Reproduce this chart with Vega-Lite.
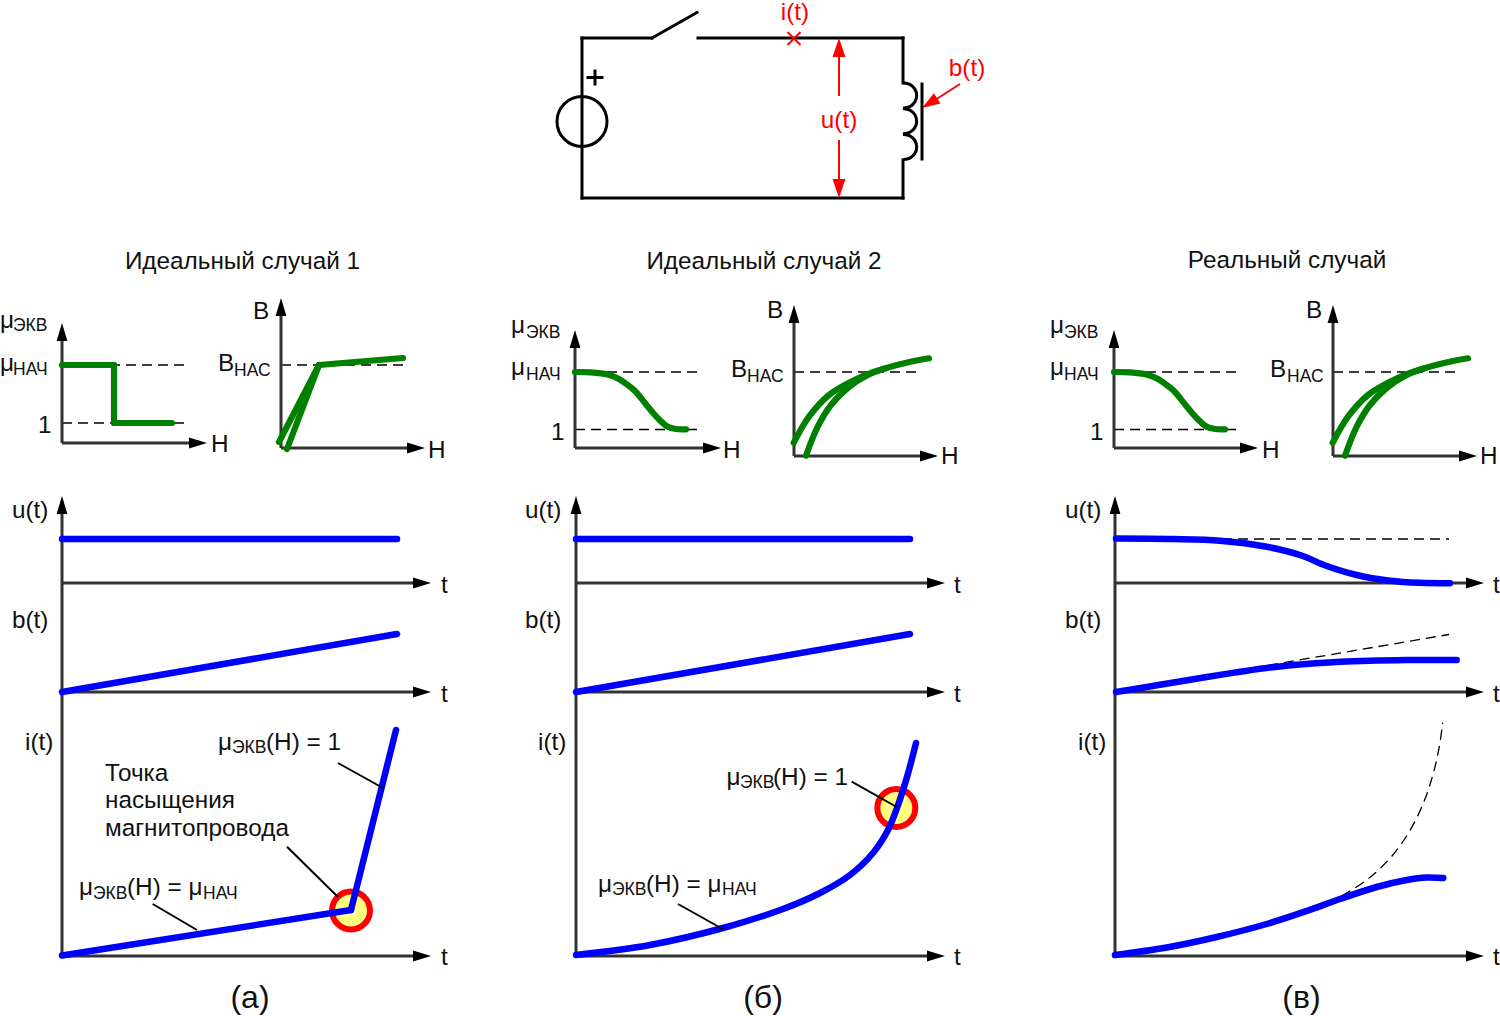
{
"$schema":"https://vega.github.io/schema/vega-lite/v6.json",
"width":1500,"height":1016,"padding":0,
"autosize":{"type":"none"},
"background":"white",
"config":{"view":{"stroke":null},"text":{"font":"Liberation Sans"}},
"datasets":{
"wires":[
{"x":582,"y":38,"x2":652,"y2":38},{"x":652,"y":38,"x2":697,"y2":12.5},{"x":698,"y":38,"x2":903,"y2":38},{"x":903,"y":38,"x2":903,"y2":83},{"x":903,"y":160,"x2":903,"y2":198},{"x":582,"y":198,"x2":903,"y2":198},{"x":582,"y":38,"x2":582,"y2":198},{"x":922,"y":84,"x2":922,"y2":159},{"x":588,"y":77.5,"x2":602,"y2":77.5},{"x":595,"y":71,"x2":595,"y2":84}],
"coil":[
{"s":"1","x":903,"y":82.7},{"s":"1","x":909.9,"y":84.4},{"s":"1","x":914.9,"y":89.1},{"s":"1","x":916.7,"y":95.5},{"s":"1","x":914.9,"y":101.9},{"s":"1","x":909.9,"y":106.6},{"s":"1","x":903,"y":108.3},
{"s":"2","x":903,"y":108.4},{"s":"2","x":909.9,"y":110.1},{"s":"2","x":914.9,"y":114.8},{"s":"2","x":916.7,"y":121.2},{"s":"2","x":914.9,"y":127.6},{"s":"2","x":909.9,"y":132.3},{"s":"2","x":903,"y":134},
{"s":"3","x":903,"y":134.2},{"s":"3","x":909.9,"y":135.9},{"s":"3","x":914.9,"y":140.6},{"s":"3","x":916.7,"y":147},{"s":"3","x":914.9,"y":153.4},{"s":"3","x":909.9,"y":158.1},{"s":"3","x":903,"y":159.8}],
"source":[{"x":582,"y":121.5}],
"redLines":[{"x":787.5,"y":32,"x2":800.5,"y2":45},{"x":800.5,"y":32,"x2":787.5,"y2":45},{"x":839,"y":50,"x2":839,"y2":96},{"x":839,"y":140,"x2":839,"y2":186},{"x":960,"y":84,"x2":935,"y2":100}],
"axes":[
{"x":62,"y":340,"x2":62,"y2":443},{"x":62,"y":443,"x2":192,"y2":443},{"x":281,"y":314,"x2":281,"y2":448},{"x":281,"y":448,"x2":410,"y2":448},
{"x":575,"y":346,"x2":575,"y2":448},{"x":575,"y":448,"x2":704,"y2":448},{"x":794,"y":321,"x2":794,"y2":456},{"x":794,"y":456,"x2":923,"y2":456},
{"x":1114,"y":346,"x2":1114,"y2":448},{"x":1114,"y":448,"x2":1243,"y2":448},{"x":1333,"y":321,"x2":1333,"y2":456},{"x":1333,"y":456,"x2":1462,"y2":456},
{"x":62,"y":512,"x2":62,"y2":956},{"x":62,"y":583,"x2":416,"y2":583},{"x":62,"y":692,"x2":416,"y2":692},{"x":62,"y":956,"x2":416,"y2":956},
{"x":576,"y":512,"x2":576,"y2":956},{"x":576,"y":583,"x2":930,"y2":583},{"x":576,"y":692,"x2":930,"y2":692},{"x":576,"y":956,"x2":930,"y2":956},
{"x":1115,"y":512,"x2":1115,"y2":956},{"x":1115,"y":583,"x2":1469,"y2":583},{"x":1115,"y":692,"x2":1469,"y2":692},{"x":1115,"y":956,"x2":1469,"y2":956}],
"arrowUp":[{"x":62,"y":323},{"x":281,"y":298},{"x":575,"y":330},{"x":794,"y":305},{"x":1114,"y":330},{"x":1333,"y":305},{"x":62,"y":496},{"x":576,"y":496},{"x":1115,"y":496}],
"arrowRight":[{"x":207,"y":443},{"x":425,"y":448},{"x":721,"y":448},{"x":938,"y":456},{"x":1258,"y":448},{"x":1477,"y":456},
{"x":431,"y":583},{"x":431,"y":692},{"x":431,"y":956},{"x":945,"y":583},{"x":945,"y":692},{"x":945,"y":956},{"x":1484,"y":583},{"x":1484,"y":692},{"x":1484,"y":956}],
"dashes":[
{"x":62,"y":365,"x2":186,"y2":365},{"x":62,"y":423,"x2":186,"y2":423},{"x":281,"y":365,"x2":403,"y2":365},
{"x":575,"y":372,"x2":698,"y2":372},{"x":575,"y":429.5,"x2":698,"y2":429.5},{"x":794,"y":372,"x2":916,"y2":372},
{"x":1114,"y":372,"x2":1237,"y2":372},{"x":1114,"y":429.5,"x2":1237,"y2":429.5},{"x":1333,"y":372,"x2":1455,"y2":372},
{"x":1222,"y":539,"x2":1449,"y2":539},{"x":1205,"y":676,"x2":1449,"y2":634.5}],
"dashCurve":[{"x":1341.7,"y":896},{"x":1366.7,"y":880},{"x":1390,"y":858.3},{"x":1408.3,"y":833.3},{"x":1423.3,"y":803.3},{"x":1433.3,"y":773.3},{"x":1439.3,"y":746.7},{"x":1442.7,"y":722.7}],
"greenSeg":[{"x":62,"y":365,"x2":114,"y2":365},{"x":114,"y":365,"x2":114,"y2":423},{"x":114,"y":423,"x2":172,"y2":423},{"x":279,"y":442,"x2":319,"y2":365},{"x":287,"y":449,"x2":319,"y2":365},{"x":319,"y":365,"x2":403,"y2":358}],
"greenCurve":[
{"s":"m2","x":575,"y":372},{"s":"m2","x":591,"y":372.3},{"s":"m2","x":607.7,"y":374.5},{"s":"m2","x":619,"y":379},{"s":"m2","x":627.7,"y":385},{"s":"m2","x":635,"y":391},{"s":"m2","x":641,"y":398},{"s":"m2","x":649,"y":408},{"s":"m2","x":657.7,"y":418},{"s":"m2","x":667.7,"y":426.7},{"s":"m2","x":676,"y":429},{"s":"m2","x":686,"y":429.3},
{"s":"m3","x":1114,"y":372},{"s":"m3","x":1130,"y":372.3},{"s":"m3","x":1146.7,"y":374.5},{"s":"m3","x":1158,"y":379},{"s":"m3","x":1166.7,"y":385},{"s":"m3","x":1174,"y":391},{"s":"m3","x":1180,"y":398},{"s":"m3","x":1188,"y":408},{"s":"m3","x":1196.7,"y":418},{"s":"m3","x":1206.7,"y":426.7},{"s":"m3","x":1215,"y":429},{"s":"m3","x":1225,"y":429.3},
{"s":"u2","x":793.7,"y":442.7},{"s":"u2","x":809,"y":416.7},{"s":"u2","x":829,"y":395},{"s":"u2","x":851,"y":381.7},{"s":"u2","x":871,"y":373},{"s":"u2","x":901,"y":364},{"s":"u2","x":929,"y":358.3},
{"s":"l2","x":806,"y":455.7},{"s":"l2","x":817.7,"y":426.7},{"s":"l2","x":831,"y":405},{"s":"l2","x":847.7,"y":388},{"s":"l2","x":867.7,"y":375},{"s":"l2","x":885,"y":368.5},
{"s":"u3","x":1332.7,"y":442.7},{"s":"u3","x":1348,"y":416.7},{"s":"u3","x":1368,"y":395},{"s":"u3","x":1390,"y":381.7},{"s":"u3","x":1410,"y":373},{"s":"u3","x":1440,"y":364},{"s":"u3","x":1468,"y":358.3},
{"s":"l3","x":1345,"y":455.7},{"s":"l3","x":1356.7,"y":426.7},{"s":"l3","x":1370,"y":405},{"s":"l3","x":1386.7,"y":388},{"s":"l3","x":1406.7,"y":375},{"s":"l3","x":1424,"y":368.5}],
"blueSeg":[{"x":62,"y":539,"x2":397,"y2":539},{"x":62,"y":692,"x2":397,"y2":634},{"x":62,"y":955.5,"x2":351,"y2":910},{"x":351,"y":910,"x2":396,"y2":730},{"x":576,"y":539,"x2":910,"y2":539},{"x":576,"y":692,"x2":910,"y2":634}],
"blueCurve":[
{"s":"ib","x":576,"y":955},{"s":"ib","x":650,"y":945},{"s":"ib","x":723,"y":928},{"s":"ib","x":783,"y":909},{"s":"ib","x":820,"y":893},{"s":"ib","x":850,"y":875},{"s":"ib","x":873,"y":853},{"s":"ib","x":888,"y":830},{"s":"ib","x":897,"y":808},{"s":"ib","x":907,"y":777},{"s":"ib","x":916,"y":743},
{"s":"uc","x":1116,"y":538.5},{"s":"uc","x":1173,"y":539},{"s":"uc","x":1220,"y":540.7},{"s":"uc","x":1266.7,"y":546.7},{"s":"uc","x":1300,"y":555},{"s":"uc","x":1326.7,"y":566},{"s":"uc","x":1356.7,"y":575},{"s":"uc","x":1390,"y":580.7},{"s":"uc","x":1420,"y":582.8},{"s":"uc","x":1450,"y":583.3},
{"s":"bc","x":1116,"y":692},{"s":"bc","x":1160,"y":684.8},{"s":"bc","x":1206.7,"y":677},{"s":"bc","x":1240,"y":671.8},{"s":"bc","x":1273,"y":667.2},{"s":"bc","x":1306,"y":664},{"s":"bc","x":1340,"y":661.7},{"s":"bc","x":1406.7,"y":660},{"s":"bc","x":1456.7,"y":660},
{"s":"ic","x":1115,"y":955},{"s":"ic","x":1166.7,"y":947.5},{"s":"ic","x":1216.7,"y":937},{"s":"ic","x":1266.7,"y":924},{"s":"ic","x":1306.7,"y":911},{"s":"ic","x":1340,"y":899},{"s":"ic","x":1376.7,"y":887},{"s":"ic","x":1406.7,"y":880},{"s":"ic","x":1426.7,"y":877.5},{"s":"ic","x":1443.3,"y":878}],
"satPoints":[{"x":351,"y":910.5},{"x":896.3,"y":808}],
"leaders":[{"x":338,"y":763,"x2":383,"y2":788},{"x":287,"y":846.7,"x2":338,"y2":897},{"x":152.7,"y":904,"x2":197,"y2":930},{"x":851.7,"y":781.7,"x2":896.7,"y2":807},{"x":678,"y":904,"x2":722.7,"y2":929}],
"text":[
{"x":0,"y":328,"t":"μ"},{"x":0,"y":371,"t":"μ"},{"x":38,"y":433,"t":"1"},{"x":211,"y":452,"t":"H"},{"x":253,"y":319,"t":"B"},{"x":218,"y":371,"t":"B"},{"x":428,"y":458,"t":"H"},
{"x":511,"y":333,"t":"μ"},{"x":511,"y":375,"t":"μ"},{"x":551,"y":440,"t":"1"},{"x":723,"y":458,"t":"H"},{"x":767,"y":318,"t":"B"},{"x":731,"y":377,"t":"B"},{"x":941,"y":464,"t":"H"},
{"x":1050,"y":333,"t":"μ"},{"x":1050,"y":375,"t":"μ"},{"x":1090,"y":440,"t":"1"},{"x":1262,"y":458,"t":"H"},{"x":1306,"y":318,"t":"B"},{"x":1270,"y":377,"t":"B"},{"x":1480,"y":464,"t":"H"},
{"x":12,"y":518,"t":"u(t)"},{"x":12,"y":628,"t":"b(t)"},{"x":25,"y":750,"t":"i(t)"},
{"x":525,"y":518,"t":"u(t)"},{"x":525,"y":628,"t":"b(t)"},{"x":538,"y":750,"t":"i(t)"},
{"x":1065,"y":518,"t":"u(t)"},{"x":1065,"y":628,"t":"b(t)"},{"x":1078,"y":750,"t":"i(t)"},
{"x":441,"y":593,"t":"t"},{"x":441,"y":702,"t":"t"},{"x":441,"y":965,"t":"t"},
{"x":954,"y":593,"t":"t"},{"x":954,"y":702,"t":"t"},{"x":954,"y":965,"t":"t"},
{"x":1493,"y":593,"t":"t"},{"x":1493,"y":702,"t":"t"},{"x":1493,"y":965,"t":"t"},
{"x":218,"y":750,"t":"μ"},{"x":266,"y":750,"t":"(H) = 1"},
{"x":105,"y":781,"t":"Точка"},{"x":105,"y":808,"t":"насыщения"},{"x":105,"y":836,"t":"магнитопровода"},
{"x":79,"y":895,"t":"μ"},{"x":127,"y":895,"t":"(H) = μ"},
{"x":726.5,"y":785,"t":"μ"},{"x":773,"y":785,"t":"(H) = 1"},
{"x":598,"y":891.5,"t":"μ"},{"x":646,"y":891.5,"t":"(H) = μ"}],
"subs":[
{"x":13,"y":331,"t":"ЭКВ"},{"x":13,"y":375,"t":"НАЧ"},{"x":234,"y":376,"t":"НАС"},
{"x":526,"y":338,"t":"ЭКВ"},{"x":526,"y":380,"t":"НАЧ"},{"x":747,"y":382,"t":"НАС"},
{"x":1064,"y":338,"t":"ЭКВ"},{"x":1064,"y":380,"t":"НАЧ"},{"x":1287,"y":382,"t":"НАС"},
{"x":232,"y":753,"t":"ЭКВ"},{"x":93,"y":899,"t":"ЭКВ"},{"x":203,"y":899,"t":"НАЧ"},
{"x":740,"y":788,"t":"ЭКВ"},{"x":612,"y":895,"t":"ЭКВ"},{"x":722,"y":895,"t":"НАЧ"}],
"titles":[{"x":242.5,"y":269,"t":"Идеальный случай 1"},{"x":764,"y":269,"t":"Идеальный случай 2"},{"x":1287,"y":268,"t":"Реальный случай"}],
"captions":[{"x":250,"y":1008,"t":"(а)"},{"x":763,"y":1008,"t":"(б)"},{"x":1301.5,"y":1008,"t":"(в)"}],
"redText":[{"x":795,"y":20,"t":"i(t)"},{"x":967,"y":76,"t":"b(t)"},{"x":839,"y":128,"t":"u(t)"}],
"redUp":[{"x":839,"y":38}],"redDown":[{"x":839,"y":198}],"redSlant":[{"x":922,"y":108}]
},
"encoding":{
"x":{"field":"x","type":"quantitative","scale":{"domain":[0,1500],"nice":false,"zero":false},"axis":null},
"y":{"field":"y","type":"quantitative","scale":{"domain":[1016,0],"nice":false,"zero":false},"axis":null}
},
"layer":[
{"data":{"name":"wires"},"mark":{"type":"rule","stroke":"#000","strokeWidth":3,"strokeCap":"square"},"encoding":{"x2":{"field":"x2"},"y2":{"field":"y2"}}},
{"data":{"name":"coil"},"mark":{"type":"line","stroke":"#000","strokeWidth":3,"interpolate":"cardinal"},"encoding":{"detail":{"field":"s"},"order":{"field":"y"}}},
{"data":{"name":"source"},"mark":{"type":"point","shape":"circle","size":2500,"filled":false,"stroke":"#000","strokeWidth":3,"opacity":1}},
{"data":{"name":"redLines"},"mark":{"type":"rule","stroke":"#ff0000","strokeWidth":2},"encoding":{"x2":{"field":"x2"},"y2":{"field":"y2"}}},
{"data":{"name":"redUp"},"mark":{"type":"point","shape":"M0,0L-0.34,1L0.34,1Z","size":1444,"filled":true,"fill":"#ff0000","stroke":null,"opacity":1}},
{"data":{"name":"redDown"},"mark":{"type":"point","shape":"M0,0L-0.34,1L0.34,1Z","size":1444,"angle":180,"filled":true,"fill":"#ff0000","stroke":null,"opacity":1}},
{"data":{"name":"redSlant"},"mark":{"type":"point","shape":"M0,0L-0.34,1L0.34,1Z","size":1296,"angle":237.7,"filled":true,"fill":"#ff0000","stroke":null,"opacity":1}},
{"data":{"name":"redText"},"mark":{"type":"text","font":"Liberation Sans","fontSize":24.3,"fill":"#ff0000","align":"center","baseline":"alphabetic"},"encoding":{"text":{"field":"t"}}},
{"data":{"name":"dashes"},"mark":{"type":"rule","stroke":"#000","strokeWidth":1.3,"strokeDash":[10,6]},"encoding":{"x2":{"field":"x2"},"y2":{"field":"y2"}}},
{"data":{"name":"dashCurve"},"mark":{"type":"line","stroke":"#000","strokeWidth":1.3,"strokeDash":[10,6],"interpolate":"catmull-rom"}},
{"data":{"name":"satPoints"},"mark":{"type":"point","shape":"circle","size":1444,"filled":true,"fill":"#ffff80","stroke":"#ff0000","strokeWidth":6,"opacity":1}},
{"data":{"name":"axes"},"mark":{"type":"rule","stroke":"#333333","strokeWidth":3},"encoding":{"x2":{"field":"x2"},"y2":{"field":"y2"}}},
{"data":{"name":"arrowUp"},"mark":{"type":"point","shape":"M0,0L-0.3,1L0.3,1Z","size":1296,"filled":true,"fill":"#000","stroke":null,"opacity":1}},
{"data":{"name":"arrowRight"},"mark":{"type":"point","shape":"M0,0L-0.3,1L0.3,1Z","size":1296,"angle":90,"filled":true,"fill":"#000","stroke":null,"opacity":1}},
{"data":{"name":"greenSeg"},"mark":{"type":"rule","stroke":"#008000","strokeWidth":6.2,"strokeCap":"round"},"encoding":{"x2":{"field":"x2"},"y2":{"field":"y2"}}},
{"data":{"name":"greenCurve"},"mark":{"type":"line","stroke":"#008000","strokeWidth":6.2,"strokeCap":"round","interpolate":"catmull-rom"},"encoding":{"detail":{"field":"s"}}},
{"data":{"name":"blueSeg"},"mark":{"type":"rule","stroke":"#0000ff","strokeWidth":6.5,"strokeCap":"round"},"encoding":{"x2":{"field":"x2"},"y2":{"field":"y2"}}},
{"data":{"name":"blueCurve"},"mark":{"type":"line","stroke":"#0000ff","strokeWidth":6.5,"strokeCap":"round","interpolate":"catmull-rom"},"encoding":{"detail":{"field":"s"}}},
{"data":{"name":"leaders"},"mark":{"type":"rule","stroke":"#000","strokeWidth":2},"encoding":{"x2":{"field":"x2"},"y2":{"field":"y2"}}},
{"data":{"name":"text"},"mark":{"type":"text","font":"Liberation Sans","fontSize":24.3,"fill":"#111","align":"left","baseline":"alphabetic"},"encoding":{"text":{"field":"t"}}},
{"data":{"name":"subs"},"mark":{"type":"text","font":"Liberation Sans","fontSize":17.5,"fill":"#111","align":"left","baseline":"alphabetic"},"encoding":{"text":{"field":"t"}}},
{"data":{"name":"titles"},"mark":{"type":"text","font":"Liberation Sans","fontSize":24.3,"fill":"#111","align":"center","baseline":"alphabetic"},"encoding":{"text":{"field":"t"}}},
{"data":{"name":"captions"},"mark":{"type":"text","font":"Liberation Sans","fontSize":32,"fill":"#111","align":"center","baseline":"alphabetic"},"encoding":{"text":{"field":"t"}}}
]
}
